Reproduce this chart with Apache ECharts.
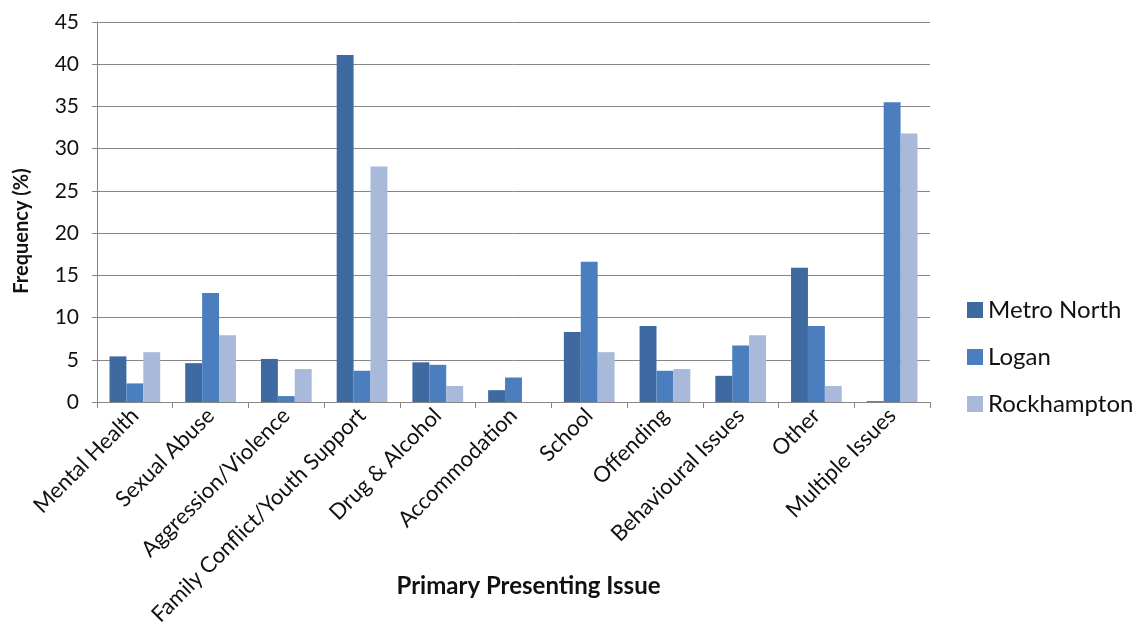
<!DOCTYPE html>
<html><head><meta charset="utf-8">
<script src="https://cdn.jsdelivr.net/npm/echarts@6/dist/echarts.min.js"></script>
<style>html,body{margin:0;padding:0;background:#fff}#c{width:1142px;height:642px}</style>
</head><body><div id="c"></div>
<script>
const categories = ["Mental Health","Sexual Abuse","Aggression/Violence","Family Conflict/Youth Support","Drug & Alcohol","Accommodation","School","Offending","Behavioural Issues","Other","Multiple Issues"];
const metroNorth = [5.4, 4.6, 5.1, 41.1, 4.7, 1.4, 8.3, 9.0, 3.1, 15.9, 0.1];
const logan = [2.2, 12.9, 0.7, 3.7, 4.4, 2.9, 16.6, 3.7, 6.7, 9.0, 35.5];
const rockhampton = [5.9, 7.9, 3.9, 27.9, 1.9, 0, 5.9, 3.9, 7.9, 1.9, 31.8];
const yTicks = [0,5,10,15,20,25,30,35,40,45];
const font = "Lato, 'Open Sans', sans-serif";
const chart = echarts.init(document.getElementById('c'));
const mk = (name, data, color) => ({name, type:'bar', data, barGap:'0%', barCategoryGap:'33%', itemStyle:{color}});
chart.setOption({
  animation:false,
  grid:{left:97, right:212, top:22, bottom:240, containLabel:false, outerBoundsMode:'none'},
  legend:{orient:'vertical', left:962, top:293, itemGap:23, itemWidth:16, itemHeight:16, icon:'rect',
    textStyle:{fontFamily:font, fontSize:24, color:'#111'}},
  xAxis:{type:'category', data:categories,
    axisLine:{lineStyle:{color:'#868686'}},
    axisTick:{show:true, length:6, lineStyle:{color:'#868686'}},
    axisLabel:{rotate:45, interval:0, fontFamily:font, fontSize:22, color:'#111', margin:10},
    name:'Primary Presenting Issue', nameLocation:'middle', nameGap:172, nameMoveOverlap:false,
    nameTextStyle:{fontFamily:font, fontSize:24, fontWeight:'bold', color:'#111', padding:[0,0,0,30]}},
  yAxis:{type:'value', min:yTicks[0], max:yTicks[yTicks.length-1], interval:5,
    axisLine:{show:true, lineStyle:{color:'#868686'}},
    axisTick:{show:true, length:5, lineStyle:{color:'#868686'}},
    splitLine:{lineStyle:{color:'#868686'}},
    axisLabel:{fontFamily:font, fontSize:21, color:'#111', margin:18},
    name:'Frequency (%)', nameLocation:'middle', nameGap:65, nameMoveOverlap:false,
    nameTextStyle:{fontFamily:font, fontSize:20, fontWeight:'bold', color:'#111', padding:[0,38,0,0]}},
  series:[mk('Metro North', metroNorth, '#3E69A1'), mk('Logan', logan, '#4A7EBF'), mk('Rockhampton', rockhampton, '#A8B9D9')]
});
</script></body></html>
